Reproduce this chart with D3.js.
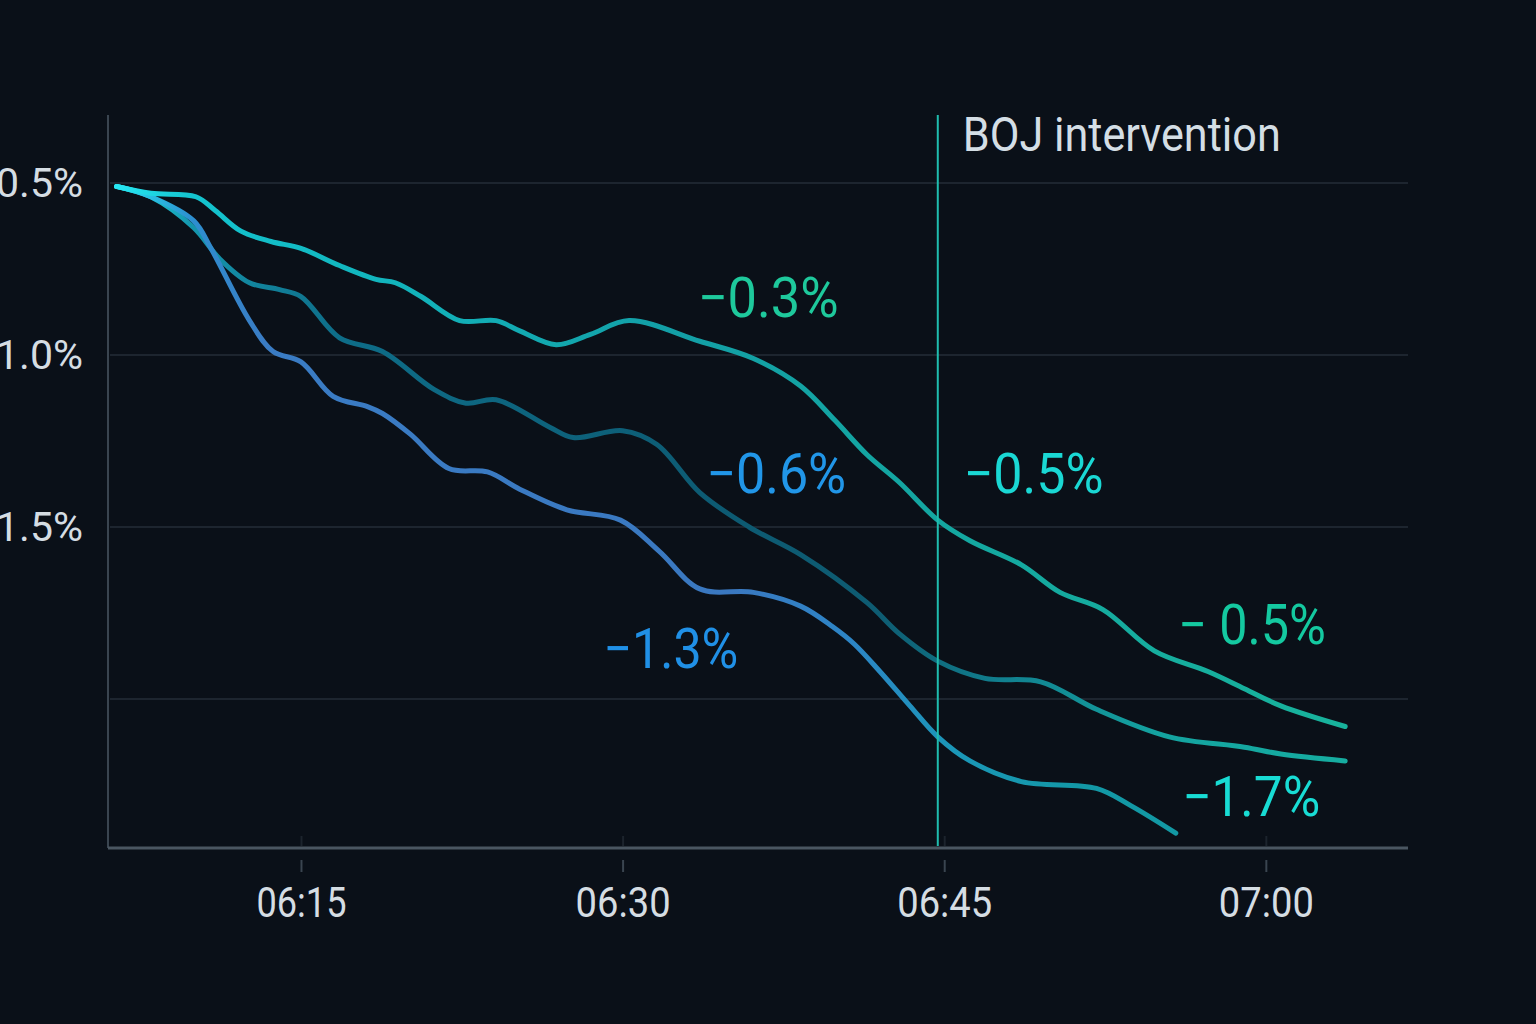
<!DOCTYPE html>
<html>
<head>
<meta charset="utf-8">
<script src="https://cdn.jsdelivr.net/npm/d3@7"></script>
<style>
  body { margin: 0; background: #0a1018; }
  svg { display: block; }
</style>
</head>
<body>
<script>
// minutes after 06:00 and % change
var topTimes = [6.4, 8.0, 10.1, 11.0, 12.2, 13.6, 15.0, 16.8, 18.5, 19.4, 20.6, 22.4, 24.1, 25.2, 26.9, 28.5, 30.3, 33.6, 36.1, 38.3, 39.9, 41.4, 42.9, 44.7, 46.2, 48.6, 50.4, 52.4, 54.8, 57.3, 59.0, 60.7, 63.7];
var topValues = [-0.51, -0.53, -0.54, -0.58, -0.64, -0.67, -0.69, -0.74, -0.78, -0.79, -0.83, -0.90, -0.90, -0.93, -0.97, -0.94, -0.90, -0.96, -1.01, -1.09, -1.19, -1.29, -1.37, -1.48, -1.54, -1.61, -1.69, -1.74, -1.86, -1.92, -1.97, -2.02, -2.08];

var midTimes = [6.4, 8.0, 10.0, 11.2, 12.6, 14.0, 15.0, 16.8, 18.8, 21.2, 22.7, 24.1, 26.6, 27.7, 30.0, 31.6, 33.6, 35.9, 38.3, 41.4, 42.9, 44.7, 46.9, 49.5, 52.1, 55.5, 59.0, 60.7, 63.7];
var midValues = [-0.51, -0.54, -0.63, -0.72, -0.79, -0.81, -0.83, -0.95, -0.99, -1.10, -1.14, -1.13, -1.21, -1.24, -1.22, -1.26, -1.40, -1.50, -1.58, -1.72, -1.81, -1.89, -1.94, -1.95, -2.03, -2.11, -2.14, -2.16, -2.18];

var lowTimes = [6.4, 8.0, 10.0, 10.8, 12.6, 13.7, 15.0, 16.5, 18.1, 18.8, 20.1, 21.9, 23.7, 25.2, 27.4, 29.9, 31.7, 33.6, 36.1, 38.3, 39.8, 40.8, 42.0, 43.4, 44.7, 46.2, 48.6, 52.1, 53.7, 55.8];
var lowValues = [-0.51, -0.54, -0.61, -0.69, -0.90, -0.99, -1.02, -1.12, -1.15, -1.17, -1.23, -1.33, -1.34, -1.39, -1.45, -1.48, -1.57, -1.68, -1.69, -1.73, -1.79, -1.84, -1.92, -2.02, -2.11, -2.18, -2.24, -2.26, -2.31, -2.39];

var xTicks = [15, 30, 45, 60];
var yTicks = [-0.5, -1.0, -1.5];
var gridValues = [-0.5, -1.0, -1.5, -2.0];
var eventTime = 44.7;
var eventLabel = "BOJ intervention";

// labels: text, minute, value where baseline sits
var labelTexts = ["\u22120.3%", "\u22120.6%", "\u22121.3%", "\u22120.5%", "\u2212 0.5%", "\u22121.7%"];
var labelTimes = [33.5, 33.9, 29.1, 45.9, 55.9, 56.1];
var labelValues = [-0.89, -1.40, -1.91, -1.40, -1.84, -2.34];

(function(d3) {
	var width = 1536;
	var height = 1024;

	function toDate(m) { return new Date(2024, 0, 1, 6, 0, 0, Math.round(m * 60000)); }

	var svg = d3.select("body").append("svg")
		.attr("width", width)
		.attr("height", height)
		.style("background", "#0a1018");

	var x = d3.scaleTime()
		.domain([toDate(6.0), toDate(66.63)])
		.range([108, 1408]);

	var y = d3.scaleLinear()
		.domain([-0.5, -2.0])
		.range([183, 699]);

	// grid
	svg.append("g").selectAll("line")
		.data(gridValues)
		.enter().append("line")
		.attr("x1", 110).attr("x2", 1408)
		.attr("y1", function(d) { return y(d); })
		.attr("y2", function(d) { return y(d); })
		.attr("stroke", "#1d252f")
		.attr("stroke-width", 2);

	// y axis (labels run off the left edge, as in the original)
	var yAxis = svg.append("g")
		.attr("transform", "translate(108,0)")
		.call(d3.axisLeft(y).tickValues(yTicks).tickSize(0).tickPadding(25)
			.tickFormat(function(d) { return "\u2212" + Math.abs(d).toFixed(1) + "%"; }));
	yAxis.select(".domain").remove();
	yAxis.append("line")
		.attr("x1", 0).attr("x2", 0)
		.attr("y1", 115).attr("y2", 848)
		.attr("stroke", "#3a4550").attr("stroke-width", 2);
	yAxis.selectAll("text")
		.attr("font-family", "Roboto, sans-serif")
		.attr("font-size", "41px")
		.attr("fill", "#d5dde3")
		.attr("dy", "0.33em");

	// x axis
	var xAxis = svg.append("g")
		.attr("transform", "translate(0,848)")
		.call(d3.axisBottom(x).tickValues(xTicks.map(toDate)).tickSize(0)
			.tickFormat(d3.timeFormat("%H:%M")));
	xAxis.select(".domain").remove();
	xAxis.append("line")
		.attr("x1", 108).attr("x2", 1408)
		.attr("stroke", "#4a5661").attr("stroke-width", 3);
	xAxis.selectAll(".tick line")
		.attr("y1", 12).attr("y2", 24)
		.attr("stroke", "#3a4550").attr("stroke-width", 2);
	xAxis.selectAll(".tick").append("line")
		.attr("y1", -12).attr("y2", -2)
		.attr("stroke", "#1c242d").attr("stroke-width", 2);
	xAxis.selectAll("text")
		.attr("y", 69)
		.attr("dy", 0)
		.attr("font-family", "Roboto, sans-serif")
		.attr("font-size", "42px")
		.attr("fill", "#d5dde3")
		.attr("textLength", function(d, i) { return i === 0 ? 90 : 95; })
		.attr("lengthAdjust", "spacingAndGlyphs");

	// gradients along each line
	var defs = svg.append("defs");
	function gradient(id, stops) {
		var g = defs.append("linearGradient")
			.attr("id", id)
			.attr("gradientUnits", "userSpaceOnUse")
			.attr("x1", 117).attr("x2", 1347)
			.attr("y1", 0).attr("y2", 0);
		stops.forEach(function(s) {
			g.append("stop").attr("offset", s[0]).attr("stop-color", s[1]);
		});
	}
	gradient("gTop", [[0, "#27e6f2"], [0.06, "#14c4cf"], [0.2, "#12b6be"], [0.45, "#139fa6"], [0.7, "#14a8a0"], [1, "#18b39c"]]);
	gradient("gMid", [[0, "#27e6f2"], [0.06, "#1596ad"], [0.18, "#0e6d88"], [0.5, "#0d5a72"], [0.62, "#0e5c72"], [0.72, "#11808f"], [0.85, "#14a3a0"], [1, "#16ada0"]]);
	gradient("gLow", [[0, "#27e6f2"], [0.06, "#2d8fd0"], [0.12, "#3a7cc4"], [0.5, "#3a78c0"], [0.6, "#2c86c6"], [0.68, "#1b97b8"], [0.78, "#1398a6"], [1, "#129aa0"]]);

	var line = d3.line()
		.x(function(d) { return x(toDate(d[0])); })
		.y(function(d) { return y(d[1]); })
		.curve(d3.curveCatmullRom.alpha(0.5));

	function drawSeries(times, values, grad) {
		svg.append("path")
			.datum(d3.zip(times, values))
			.attr("d", line)
			.attr("fill", "none")
			.attr("stroke", "url(#" + grad + ")")
			.attr("stroke-width", 5)
			.attr("stroke-linecap", "round")
			.attr("stroke-linejoin", "round");
	}

	drawSeries(midTimes, midValues, "gMid");
	drawSeries(lowTimes, lowValues, "gLow");
	drawSeries(topTimes, topValues, "gTop");

	// intervention marker
	svg.append("line")
		.attr("x1", x(toDate(eventTime))).attr("x2", x(toDate(eventTime)))
		.attr("y1", 115).attr("y2", 846)
		.attr("stroke", "#1fbcae")
		.attr("stroke-width", 2);

	svg.append("text")
		.attr("x", x(toDate(eventTime)) + 25)
		.attr("y", 151)
		.attr("font-family", "Roboto, sans-serif")
		.attr("font-size", "48px")
		.attr("fill", "#d4dee5")
		.attr("textLength", 318)
		.attr("lengthAdjust", "spacingAndGlyphs")
		.text(eventLabel);

	var labelColors = ["#1ec99c", "#2196e8", "#2090e6", "#1ad8d4", "#14c9a0", "#18dcd4"];
	var labelWidths = [141, 140, 135, 140, 148, 138];

	svg.append("g").selectAll("text")
		.data(labelTexts)
		.enter().append("text")
		.attr("x", function(d, i) { return x(toDate(labelTimes[i])); })
		.attr("y", function(d, i) { return y(labelValues[i]); })
		.attr("font-family", "Roboto, sans-serif")
		.attr("font-size", "56px")
		.attr("fill", function(d, i) { return labelColors[i]; })
		.attr("textLength", function(d, i) { return labelWidths[i]; })
		.attr("lengthAdjust", "spacingAndGlyphs")
		.text(function(d) { return d; });

})(d3);
</script>
</body>
</html>
